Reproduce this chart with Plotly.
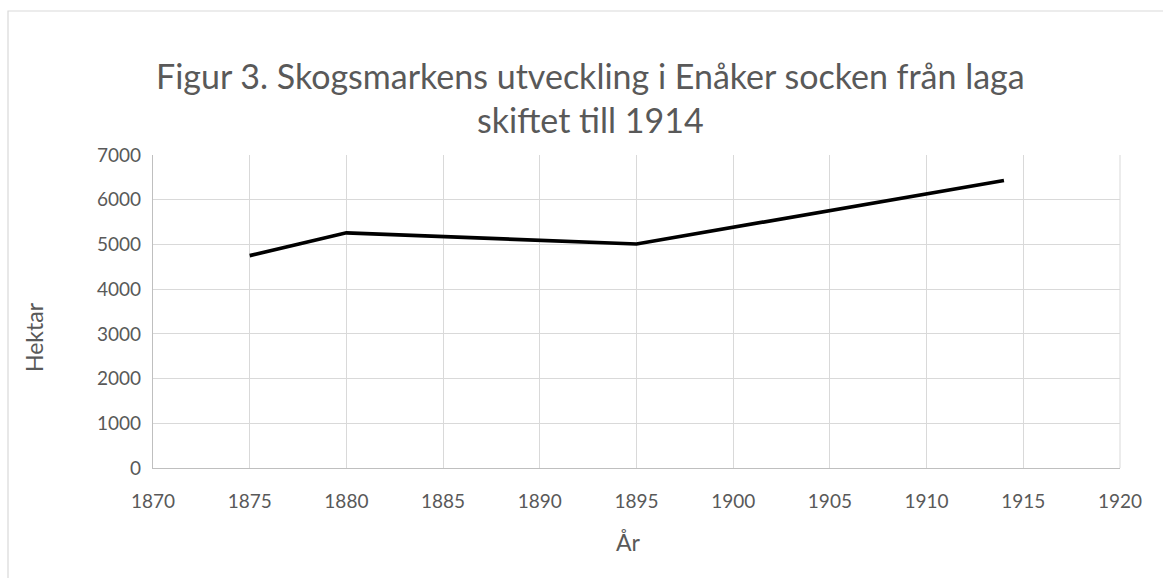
import plotly.graph_objects as go

years = [1875, 1880, 1895, 1914]
hektar = [4750, 5260, 5010, 6430]
x_ticks = [1870, 1875, 1880, 1885, 1890, 1895, 1900, 1905, 1910, 1915, 1920]
y_ticks = [0, 1000, 2000, 3000, 4000, 5000, 6000, 7000]

title_text = "Figur 3. Skogsmarkens utveckling i Enåker socken från laga<br>skiftet till 1914"
x_title = "År"
y_title = "Hektar"
FONT = "Lato, 'Open Sans', sans-serif"
GRAY = "#595959"

fig = go.Figure()
fig.add_trace(go.Scatter(
    x=years, y=hektar, mode="lines",
    line=dict(color="black", width=3.7),
    showlegend=False, hoverinfo="x+y",
))

W, H = 1163, 578
L, R, T, B = 153, 43, 155, 110
pw, ph = W - L - R, H - T - B

def px2paper_x(px):
    return (px - L) / pw

def px2paper_y(py):
    return (H - B - py) / ph

fig.add_shape(type="rect", xref="paper", yref="paper",
              x0=px2paper_x(8), x1=px2paper_x(1200),
              y0=px2paper_y(640), y1=px2paper_y(11),
              line=dict(color="#d9d9d9", width=1.2), fillcolor="rgba(0,0,0,0)",
              layer="below")

fig.add_annotation(text=title_text, xref="paper", yref="paper",
                   x=px2paper_x(590), y=px2paper_y(98),
                   xanchor="center", yanchor="middle", showarrow=False,
                   align="center",
                   font=dict(family=FONT, size=34, color=GRAY))
fig.add_annotation(text=y_title, xref="paper", yref="paper",
                   x=px2paper_x(34), y=px2paper_y(337),
                   xanchor="center", yanchor="middle", showarrow=False,
                   textangle=-90,
                   font=dict(family=FONT, size=23, color=GRAY))
fig.add_annotation(text=x_title, xref="paper", yref="paper",
                   x=px2paper_x(628), y=px2paper_y(542),
                   xanchor="center", yanchor="middle", showarrow=False,
                   font=dict(family=FONT, size=23, color=GRAY))

fig.update_layout(
    width=W, height=H,
    margin=dict(l=L, r=R, t=T, b=B),
    paper_bgcolor="white", plot_bgcolor="white",
    font=dict(family=FONT, color=GRAY),
    xaxis=dict(range=[1870, 1920], tickvals=x_ticks, ticktext=[str(v) for v in x_ticks],
               showgrid=True, gridcolor="#d9d9d9", gridwidth=1,
               showline=True, linecolor="#bfbfbf", linewidth=1.3,
               ticks="", ticklabelstandoff=16,
               tickfont=dict(size=19, color=GRAY, family=FONT),
               zeroline=False, fixedrange=True),
    yaxis=dict(range=[0, 7000], tickvals=y_ticks, ticktext=[str(v) for v in y_ticks],
               showgrid=True, gridcolor="#d9d9d9", gridwidth=1,
               showline=True, linecolor="#bfbfbf", linewidth=1.3,
               ticks="", ticklabelstandoff=7,
               tickfont=dict(size=19, color=GRAY, family=FONT),
               zeroline=False, fixedrange=True),
)
fig.add_shape(type="line", xref="paper", yref="paper", x0=1, x1=1, y0=0, y1=1,
              line=dict(color="#d9d9d9", width=1), layer="below")

fig.write_html("out.html", config={"displayModeBar": False},
               post_script="document.body.style.margin='0';document.body.style.overflow='hidden';")
